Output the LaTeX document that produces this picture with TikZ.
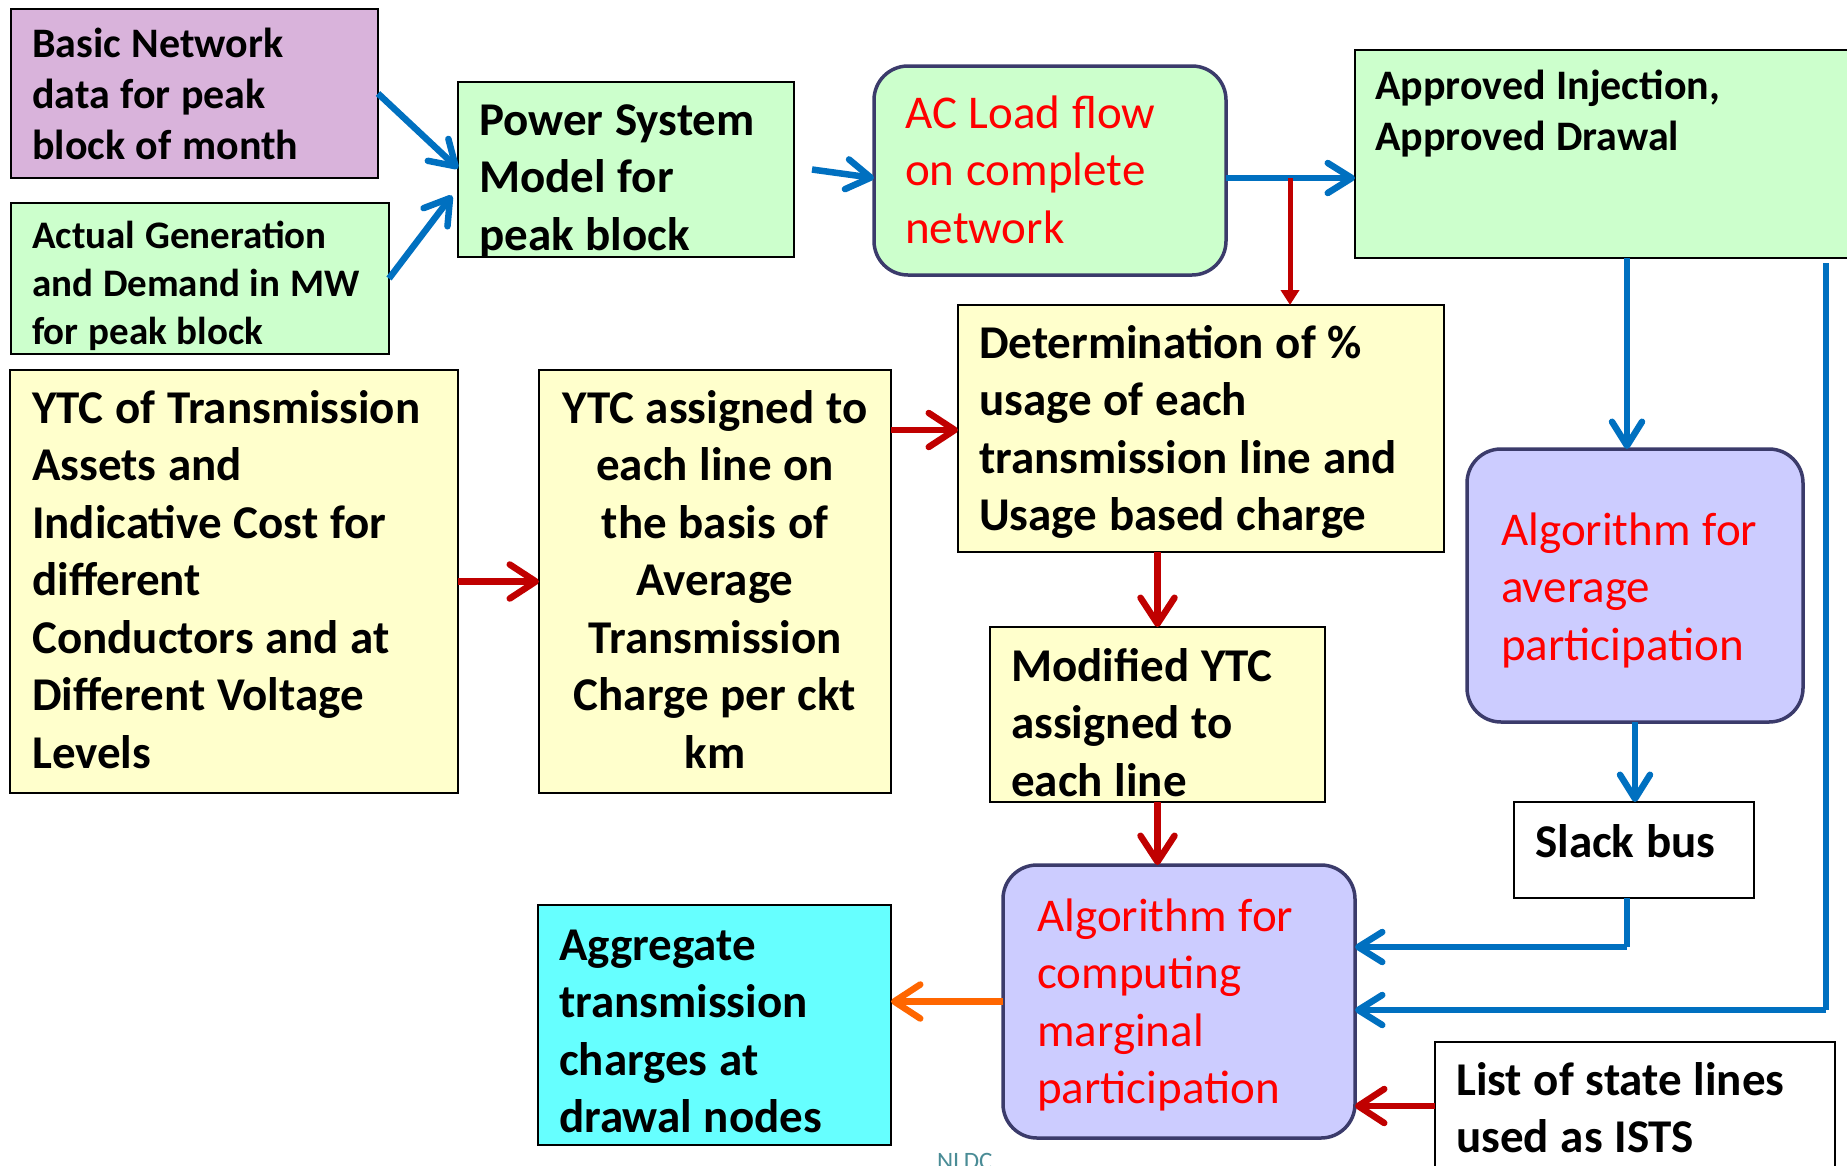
\documentclass[tikz,border=0pt]{standalone}
\usepackage{fontspec}
\setmainfont{Carlito}
\usetikzlibrary{arrows.meta,calc}
\definecolor{cblue}{HTML}{0070C0}
\definecolor{cred}{HTML}{C00000}
\definecolor{corange}{HTML}{FF6600}
\definecolor{tred}{HTML}{FF0000}
\definecolor{fpurple}{HTML}{D9B3DB}
\definecolor{fgreen}{HTML}{CCFFCC}
\definecolor{fyellow}{HTML}{FFFFCC}
\definecolor{flav}{HTML}{CCCCFF}
\definecolor{fcyan}{HTML}{66FFFF}
\definecolor{navy}{HTML}{3B3B6B}
\definecolor{nldc}{HTML}{4A8C96}
\newcommand\tightsp{\spaceskip=0.25em\relax}
\tikzset{
  box/.style={draw=black, line width=2pt, anchor=north west, inner sep=0pt, outer sep=0pt},
  rbox/.style={draw=navy, line width=3.5pt, rounded corners=34pt, anchor=north west, inner sep=0pt, outer sep=0pt},
  txtb/.style 2 args={anchor=base west, inner sep=0pt, text width=560pt, align=left, font=\bfseries\fontsize{#1}{#2}\selectfont, execute at begin node=\tightsp},
  txtr/.style 2 args={anchor=base west, inner sep=0pt, text width=560pt, align=left, text=tred, font=\fontsize{#1}{#2}\selectfont, execute at begin node=\tightsp},
  barrow/.style={draw=cblue, line width=6.5pt, -{Straight Barb[round,length=24pt,width=30pt]}},
  rarrow/.style={draw=cred, line width=6.5pt, -{Straight Barb[round,length=26pt,width=34pt]}},
  oarrow/.style={draw=corange, line width=6.5pt, -{Straight Barb[round,length=26pt,width=34pt]}},
  tarrow/.style={draw=cred, line width=5pt, -{Triangle[length=15pt,width=18pt]}},
  bline/.style={draw=cblue, line width=6.5pt},
}
\begin{document}
\begin{tikzpicture}[x=1pt,y=-1pt]
\useasboundingbox (0,0) rectangle (1847,1165);
\clip (0,0) rectangle (1847,1165);

% boxes
\node[box, fill=fpurple, minimum width=367pt, minimum height=169pt] (basic) at (11,9) {};
\node[box, fill=fgreen, minimum width=378pt, minimum height=151pt] (actual) at (11,203) {};
\node[box, fill=fgreen, minimum width=336pt, minimum height=175pt] (psm) at (458,82) {};
\node[rbox, fill=fgreen, minimum width=352pt, minimum height=209pt] (ac) at (874,66) {};
\node[box, fill=fgreen, minimum width=540pt, minimum height=208pt] (appr) at (1355,50) {};
\node[box, fill=fyellow, minimum width=486pt, minimum height=247pt] (det) at (958,305) {};
\node[box, fill=fyellow, minimum width=448pt, minimum height=423pt] (ytc) at (10,370) {};
\node[box, fill=fyellow, minimum width=352pt, minimum height=423pt] (ytca) at (539,370) {};
\node[box, fill=fyellow, minimum width=335pt, minimum height=175pt] (mod) at (990,627) {};
\node[rbox, fill=flav, minimum width=336pt, minimum height=273pt] (avg) at (1467,449) {};
\node[box, fill=white, minimum width=240pt, minimum height=96pt] (slack) at (1514,802) {};
\node[rbox, fill=flav, minimum width=352pt, minimum height=273pt] (marg) at (1003,865) {};
\node[box, fill=fcyan, minimum width=353pt, minimum height=240pt] (agg) at (538,905) {};
\node[box, fill=white, minimum width=400pt, minimum height=160pt] (list) at (1435,1042) {};

% texts
\node[txtb={42}{51}] (tbasic) at (32,57) {Basic Network\\data for peak\\block of month};
\node[txtb={39}{48}] (tactual) at (32,248) {Actual Generation\\and Demand in MW\\for peak block};
\node[txtb={47}{57.5}] (tpsm) at (479,135) {Power System\\Model for\\peak block};
\node[txtr={47}{57.5}] (tac) at (905,128) {AC Load flow\\on complete\\network};
\node[txtb={42}{51}] (tappr) at (1375,99) {Approved Injection,\\Approved Drawal};
\node[txtb={47}{57.5}] (tdet) at (979,358) {Determination of \%\\usage of each\\transmission line and\\Usage based charge};
\node[txtb={47}{57.5}] (tytc) at (32,423) {YTC of Transmission\\Assets and\\Indicative Cost for\\different\\Conductors and at\\Different Voltage\\Levels};
\node[anchor=base, inner sep=0pt, text width=352pt, align=center, font=\bfseries\fontsize{47}{57.5}\selectfont, execute at begin node=\tightsp] (tytca) at (715,423) {YTC assigned to\\each line on\\the basis of\\Average\\Transmission\\Charge per ckt\\km};
\node[txtb={47}{57.5}] (tmod) at (1011,681) {Modified YTC\\assigned to\\each line};
\node[txtr={47}{57.5}] (tavg) at (1501,545) {Algorithm for\\average\\participation};
\node[txtb={47}{57.5}] (tslack) at (1535,857) {Slack bus};
\node[txtr={47}{57.5}] (tmarg) at (1037,931) {Algorithm for\\computing\\marginal\\participation};
\node[txtb={47}{57.5}] (tagg) at (559,960) {Aggregate\\transmission\\charges at\\drawal nodes};
\node[txtb={47}{57.5}] (tlist) at (1456,1095) {List of state lines\\used as ISTS};
\node[anchor=base west, inner sep=0pt, text=nldc, font=\fontsize{25}{30}\selectfont] (tnldc) at (937,1169) {NLDC};

% helper coordinates
\coordinate (j) at (1290,178);
\coordinate (c1) at (1627,947);
\coordinate (c2) at (1826,1010);
\coordinate (c3) at (1826,263);
\coordinate (c4) at (1400,1106);
\coordinate (c5) at (900,430);
\coordinate (c6) at (1627,300);

% connectors
\draw[barrow] (basic.east) -- ($(psm.west)+(0,-1)$);
\draw[barrow] (actual.east) -- ($(psm.west)+(-6,26)$);
\draw[barrow] ($(psm.east)+(18,0)$ |- j) -- (ac.west |- j);
\draw[barrow] (ac.east |- j) -- (appr.west |- j);
\draw[tarrow] (j) -- (det.north -| j);
\draw[barrow] (appr.south -| c6) -- (avg.north -| c6);
\draw[barrow] (avg.south) -- (avg.south |- slack.north);
\draw[bline] (slack.south -| c1) -- (c1);
\draw[barrow] (c1) -- (marg.east |- c1);
\draw[bline] (c3) -- (c2);
\draw[barrow] (c2) -- (marg.east |- c2);
\draw[rarrow] (list.west |- c4) -- (marg.east |- c4);
\draw[oarrow] (marg.west) -- (agg.east |- marg.west);
\draw[rarrow] (ytc.east) -- (ytca.west |- ytc.east);
\draw[rarrow] (ytca.east |- c5) -- (det.west |- c5);
\draw[rarrow] (det.south -| mod.north) -- (mod.north);
\draw[rarrow] (mod.south) -- (mod.south |- marg.north);
\end{tikzpicture}
\end{document}
